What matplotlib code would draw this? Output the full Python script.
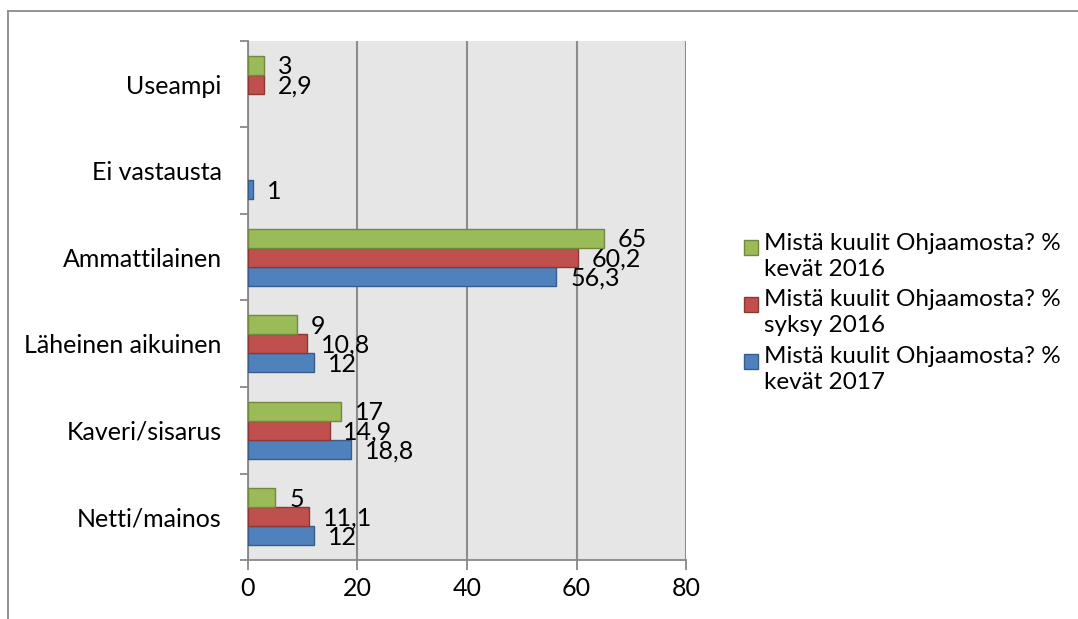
import numpy as np
import matplotlib.pyplot as plt
from matplotlib.patches import Patch
from matplotlib.lines import Line2D

plt.rcParams["font.family"] = ["Lato", "DejaVu Sans"]

categories = ["Netti/mainos", "Kaveri/sisarus", "Läheinen aikuinen",
              "Ammattilainen", "Ei vastausta", "Useampi"]

# None = no bar for that group
kevat_2017 = [12, 18.8, 12, 56.3, 1, None]
syksy_2016 = [11.1, 14.9, 10.8, 60.2, None, 2.9]
kevat_2016 = [5, 17, 9, 65, None, 3]

series_labels = [
    "Mistä kuulit Ohjaamosta? %\nkevät 2016",
    "Mistä kuulit Ohjaamosta? %\nsyksy 2016",
    "Mistä kuulit Ohjaamosta? %\nkevät 2017",
]

COLORS = {
    "kevat_2016": ("#9BBB59", "#71893F"),
    "syksy_2016": ("#C0504D", "#8C3836"),
    "kevat_2017": ("#4F81BD", "#385D8A"),
}

FS = 18

fig = plt.figure(figsize=(10.78, 6.19), dpi=100)
ax = fig.add_axes([0.230, 0.0953, 0.4064, 0.8385])
ax.set_facecolor("#E6E6E6")

bar_h = 0.22
y = np.arange(len(categories))
series = [
    (kevat_2017, -bar_h, "kevat_2017"),
    (syksy_2016, 0.0, "syksy_2016"),
    (kevat_2016, bar_h, "kevat_2016"),
]

for values, offset, key in series:
    face, edge = COLORS[key]
    for yi, v in zip(y, values):
        if v is None:
            continue
        ax.barh(yi + offset, v, height=bar_h, color=face, edgecolor=edge,
                linewidth=1.0, zorder=3)
        ax.annotate(f"{v:g}".replace(".", ","), xy=(v, yi + offset),
                    xytext=(10, -1), textcoords="offset points",
                    ha="left", va="center", fontsize=FS, zorder=4)

ax.set_xlim(0, 80)
ax.set_ylim(-0.5, len(categories) - 0.5)
ax.set_xticks([0, 20, 40, 60, 80])
ax.tick_params(axis="x", length=7, width=1.3, color="#888888",
               labelsize=FS, pad=5)
ax.set_yticks(y)
ax.set_yticklabels(categories, fontsize=FS)
ax.set_yticks(np.arange(-0.5, len(categories)), minor=True)
ax.tick_params(axis="y", which="major", length=0, pad=19)
ax.tick_params(axis="y", which="minor", length=6, width=1.3, color="#888888")

ax.grid(axis="x", color="#8C8C8C", linewidth=1.5, zorder=0)
ax.set_axisbelow(True)
for side in ["top", "right"]:
    ax.spines[side].set_visible(False)
for side in ["left", "bottom"]:
    ax.spines[side].set_color("#888888")
    ax.spines[side].set_linewidth(1.3)

handles = [Patch(facecolor=COLORS[k][0], edgecolor=COLORS[k][1])
           for k in ["kevat_2016", "syksy_2016", "kevat_2017"]]
leg = fig.legend(handles, series_labels, loc="upper left",
                 bbox_to_anchor=(0.681, 0.640), frameon=False, fontsize=17.5,
                 handlelength=0.6, handleheight=0.6, handletextpad=0.25,
                 labelspacing=0.4, borderaxespad=0)
for t in leg.get_texts():
    t.set_linespacing(1.3)
# line the squares up with the first text line
for h in leg.legend_handles:
    h.set_y(h.get_y() + 6)

# outer chart frame (top and left edges)
fig.add_artist(Line2D([0.0075, 1.0], [0.9815, 0.9815], color="#8A8A8A",
                      linewidth=1.3, transform=fig.transFigure))
fig.add_artist(Line2D([0.0075, 0.0075], [0.0, 0.9815], color="#8A8A8A",
                      linewidth=1.3, transform=fig.transFigure))

fig.savefig("out.png", dpi=100)
